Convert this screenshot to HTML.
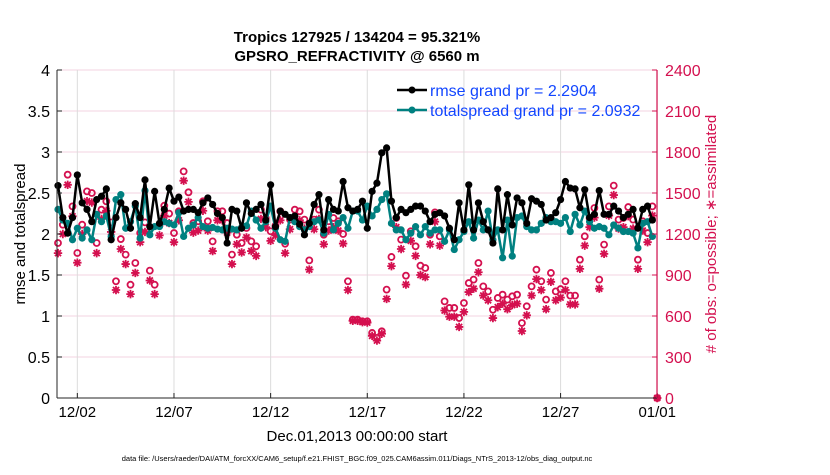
<!DOCTYPE html>
<html><head><meta charset="utf-8"><style>
body{margin:0;background:#fff;width:830px;height:470px;overflow:hidden;font-family:"Liberation Sans",sans-serif}
svg text{font-family:"Liberation Sans",sans-serif}
</style></head><body>
<svg id="chart" width="830" height="470" xmlns="http://www.w3.org/2000/svg">
<text x="357" y="42" text-anchor="middle" font-size="15" font-weight="bold">Tropics 127925 / 134204 = 95.321%</text>
<text x="357" y="61" text-anchor="middle" font-size="15" font-weight="bold">GPSRO_REFRACTIVITY @ 6560 m</text>
<g id="grid"></g>
<g id="marks"></g>
<g id="axes"></g>
<text transform="translate(25,234) rotate(-90)" text-anchor="middle" font-size="15">rmse and totalspread</text>
<text transform="translate(716,234) rotate(-90)" text-anchor="middle" font-size="15" fill="#d4104f"># of obs: o=possible; ∗=assimilated</text>
<text x="357" y="441" text-anchor="middle" font-size="15">Dec.01,2013 00:00:00 start</text>
<text x="357" y="461" text-anchor="middle" font-size="7.5">data file: /Users/raeder/DAI/ATM_forcXX/CAM6_setup/f.e21.FHIST_BGC.f09_025.CAM6assim.011/Diags_NTrS_2013-12/obs_diag_output.nc</text>
<g>
<line x1="397" y1="90" x2="427" y2="90" stroke="#000" stroke-width="2.5"/><circle cx="412" cy="90" r="3.5" fill="#000"/>
<text x="430" y="96" font-size="16" fill="#1246ff">rmse grand pr = 2.2904</text>
<line x1="397" y1="110" x2="427" y2="110" stroke="#008080" stroke-width="2.5"/><circle cx="412" cy="110" r="3.5" fill="#008080"/>
<text x="430" y="116" font-size="16" fill="#1246ff">totalspread grand pr = 2.0932</text>
</g>
</svg>
<script>
const xTickLabels=["12/02","12/07","12/12","12/17","12/22","12/27","01/01"];
const xTickDays=[1,6,11,16,21,26,31];
const yTicks=[0,0.5,1,1.5,2,2.5,3,3.5,4];
const y2Ticks=[0,300,600,900,1200,1500,1800,2100,2400];
const rmse=[2.59,2.2,2.01,2.2,2.72,2.38,2.30,2.15,2.42,2.46,2.55,1.93,2.2,2.38,2.30,2.07,2.37,2.2,2.66,2.09,2.52,2.13,2.3,2.56,2.40,2.45,2.28,2.3,2.3,2.26,2.38,2.44,2.36,2.25,2.2,1.89,2.30,2.28,2.07,2.38,2.25,2.3,2.36,2.17,2.60,2.09,2.28,2.24,2.2,2.22,2.12,1.99,2.13,2.36,2.48,2.05,2.42,2.30,2.28,2.64,2.32,2.28,2.30,2.40,2.07,2.52,2.62,2.99,3.05,2.40,2.20,2.30,2.26,2.30,2.34,2.34,2.28,2.15,2.24,2.26,2.22,2.07,1.93,2.38,2.05,2.60,2.05,2.38,2.15,2.05,1.89,2.55,2.05,2.48,2.11,2.44,2.38,2.13,2.43,2.40,2.36,2.17,2.20,2.26,2.42,2.64,2.56,2.55,2.32,2.54,2.20,2.24,2.53,2.24,2.24,2.34,2.28,2.20,2.24,2.30,2.07,2.30,2.34,2.17];
const spread=[2.30,2.17,2.13,1.93,2.07,1.95,2.05,1.93,2.24,2.15,2.22,1.97,2.42,2.48,2.07,2.15,2.34,1.95,2.53,1.99,2.09,2.09,2.15,2.13,2.11,2.26,1.97,2.07,2.11,2.2,2.09,2.07,2.08,2.06,2.05,2.07,2.06,2.05,2.08,2.10,2.28,2.17,2.07,2.15,2.34,2.07,1.93,1.91,2.20,2.15,2.09,2.05,2.09,2.15,2.17,2.01,2.24,2.05,2.13,2.20,2.07,2.28,2.28,2.17,2.34,2.22,2.30,2.42,2.49,2.13,2.05,2.05,1.93,2.01,2.09,1.99,2.09,2.01,2.05,2.05,1.91,2.05,1.81,1.93,2.03,2.15,1.95,2.17,2.05,2.28,1.93,2.05,1.71,2.17,1.73,2.20,2.22,2.09,2.05,2.05,2.13,2.20,2.15,2.15,2.13,2.20,2.03,2.24,2.11,2.28,2.15,2.07,2.09,2.07,1.99,2.11,2.07,2.03,2.03,2.01,1.83,2.13,2.15,1.97];
const possible=[1134,1268,1634,1402,1061,1268,1512,1500,1134,1378,1439,1285,854,1163,1049,829,988,1207,1285,932,829,1261,1407,1349,1207,1366,1658,1505,1280,1293,1439,1293,1146,1366,1366,1280,1049,1195,1134,1244,1146,1110,1378,1317,1220,1261,1366,1129,1305,1378,1366,1305,1007,1305,1378,1195,1293,1317,1293,1200,854,573,573,561,561,476,440,488,793,1032,1317,1159,895,1220,1110,968,951,1195,1358,1183,707,659,659,585,695,841,866,988,817,780,646,732,756,720,744,756,549,671,817,939,854,720,915,780,797,854,749,749,1012,1183,1317,1390,866,1122,1402,1554,1305,1317,1397,1305,1012,1293,1207,1402,0];
const assimilated=[1060,1200,1560,1330,990,1200,1440,1430,1060,1310,1370,1215,790,1090,980,760,915,1140,1215,860,760,1190,1335,1280,1140,1300,1590,1435,1210,1225,1370,1225,1075,1300,1300,1210,980,1125,1065,1175,1075,1040,1310,1250,1150,1190,1300,1060,1235,1310,1300,1240,940,1235,1310,1125,1225,1250,1225,1130,790,565,565,555,552,455,420,470,725,965,1250,1090,830,1150,1040,900,885,1125,1290,1115,640,595,595,520,630,775,800,920,750,715,585,665,690,650,680,690,490,605,750,870,790,650,850,715,735,790,685,685,945,1115,1250,1320,800,1055,1335,1485,1240,1250,1330,1240,945,1225,1140,1335,0];

const NS="http://www.w3.org/2000/svg";
const X0=58,PXD=19.33,Y0=398,PXU=82;
function xOf(i){return X0+PXD*i*0.25;}
function xDay(d){return X0+PXD*d;}
function yOf(v){return Y0-PXU*v;}
function y2Of(o){return Y0-PXU*o/600;}
function mk(tag,attrs,parent){const e=document.createElementNS(NS,tag);for(const k in attrs)e.setAttribute(k,attrs[k]);parent.appendChild(e);return e;}
const grid=document.getElementById('grid'),marks=document.getElementById('marks'),axes=document.getElementById('axes');

yTicks.forEach((v,k)=>{
  if(v>0){const g=mk('line',{x1:57,x2:657,y1:yOf(v),y2:yOf(v),stroke:'#f3d3e0','stroke-width':1},grid);
  
  }
  const t=mk('text',{x:50,y:yOf(v)+6,'text-anchor':'end','font-size':16},axes);t.textContent=String(v);
  
  
  mk('line',{x1:57,x2:62,y1:yOf(v),y2:yOf(v),stroke:'#222'},axes);
});
y2Ticks.forEach(o=>{
  const t=mk('text',{x:665,y:y2Of(o)+6,'font-size':16,fill:'#d4104f'},axes);t.textContent=String(o);
  
  
  mk('line',{x1:652,x2:657,y1:y2Of(o),y2:y2Of(o),stroke:'#d4104f'},axes);
});
xTickDays.forEach((d,k)=>{
  const g=mk('line',{x1:xDay(d),x2:xDay(d),y1:70,y2:398,stroke:'#dcdcdc'},grid);
  
  
  mk('line',{x1:xDay(d),x2:xDay(d),y1:393,y2:398,stroke:'#222'},axes);
  const t=mk('text',{x:xDay(d),y:417,'text-anchor':'middle','font-size':15},axes);t.textContent=xTickLabels[k];
  
  
});
mk('line',{x1:57,x2:57,y1:70,y2:398,stroke:'#262626','stroke-width':1},axes);
mk('line',{x1:57,x2:657,y1:398,y2:398,stroke:'#262626','stroke-width':1},axes);
mk('line',{x1:657,x2:657,y1:70,y2:398,stroke:'#d4104f','stroke-width':1.2},axes);

function ast(cx,cy,parent){
  const r=4.2,d=r*0.72;
  return mk('path',{d:`M${cx-r},${cy}H${cx+r}M${cx},${cy-r}V${cy+r}M${cx-d},${cy-d}L${cx+d},${cy+d}M${cx-d},${cy+d}L${cx+d},${cy-d}`,stroke:'#d4104f','stroke-width':1.8,fill:'none'},parent);
}
possible.forEach((o,i)=>{
  const a=ast(xOf(i),y2Of(assimilated[i]),marks);
  
  
  const c=mk('circle',{cx:xOf(i),cy:y2Of(o),r:3,fill:'none',stroke:'#d4104f','stroke-width':1.8},marks);
  
  
});
function series(vals,color,name){
  const p=mk('polyline',{points:vals.map((v,i)=>xOf(i)+','+yOf(v)).join(' '),fill:'none',stroke:color,'stroke-width':2.5,'stroke-linejoin':'round'},marks);
  
  
  vals.forEach((v,i)=>{
    const c=mk('circle',{cx:xOf(i),cy:yOf(v),r:3.6,fill:color},marks);
    
    
  });
}
series(spread,'#008080','totalspread');
series(rmse,'#000000','rmse');
</script>
</body></html>
